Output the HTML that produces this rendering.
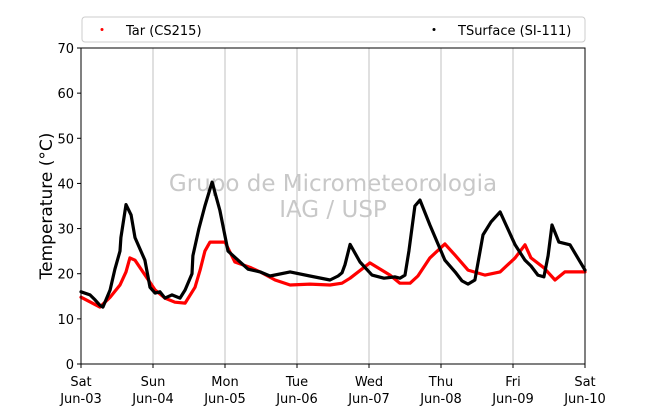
<!DOCTYPE html>
<html><head><meta charset="utf-8"><style>
body{margin:0;background:#fff;font-family:"Liberation Sans","DejaVu Sans",sans-serif;}
svg text{font-family:"DejaVu Sans","Liberation Sans",sans-serif;}
</style></head><body>
<svg id="chart" width="650" height="409" xmlns="http://www.w3.org/2000/svg">
<rect width="650" height="409" fill="#fff"/>
<g id="grid"></g>
<text x="333" y="191" text-anchor="middle" font-size="23" fill="#c8c8c8">Grupo de Micrometeorologia</text>
<text x="333" y="217" text-anchor="middle" font-size="23" fill="#c8c8c8">IAG / USP</text>
<g id="series"></g>
<rect x="81" y="48" width="504" height="316" fill="none" stroke="#000" stroke-width="1"/>
<g id="axes"></g>
<text transform="translate(52,206) rotate(-90)" text-anchor="middle" font-size="17">Temperature (°C)</text>
<g>
<rect x="82" y="17" width="503" height="25" rx="3" fill="#fff" stroke="#ccc"/>
<circle cx="102" cy="29.5" r="1.5" fill="red"/>
<text x="126" y="35" font-size="13">Tar (CS215)</text>
<circle cx="434" cy="29.5" r="1.5" fill="#000"/>
<text x="458" y="35" font-size="13">TSurface (SI-111)</text>
</g>
</svg>
<script>
const dayLabels=["Sat","Sun","Mon","Tue","Wed","Thu","Fri","Sat"];
const dateLabels=["Jun-03","Jun-04","Jun-05","Jun-06","Jun-07","Jun-08","Jun-09","Jun-10"];
const yTicks=[0,10,20,30,40,50,60,70];
const surfHours=[0,3,4.7,6.3,7.3,9.7,11.3,13,13.3,15,16.7,18,21.3,23,24.7,26.3,28,30.3,33,34.7,37,37.3,39.3,41.3,43.7,46.3,49,55.7,59.7,63,69.7,76.3,83,85.7,87,88,89.7,93,97,101,104.7,106.3,108,109.3,111.3,113,116.3,121.3,124.7,127,129,131.3,134,136.7,139.7,144.7,148,150,152.3,154.3,155.7,157,159.3,163,168];
const surfTemps=[16,15.3,14.2,13,12.6,16.4,21,25,28,35.3,33,28,23,17,15.7,16,14.6,15.3,14.6,16.4,20,24,30,35,40.3,34,25,21,20.4,19.5,20.4,19.5,18.6,19.5,20.2,22,26.5,22.6,19.7,19,19.3,19,19.7,25,35,36.3,30.8,23,20.4,18.4,17.7,18.6,28.6,31.5,33.7,26.4,23,21.7,19.7,19.3,24,30.8,27,26.4,20.8,17.5,14.2];
const tarHours=[0,6.3,9.7,13,15,16.3,18,24.7,28,31.3,34.7,38,39.7,41.3,43,48,51.3,56.7,59.7,64.7,69.7,76.3,83,87,89.7,96.3,103,106.3,109.7,112.3,116.3,121.3,124.7,129,134.7,139.7,144.7,148,150,154.3,158,161.3,168];
const tarTemps=[14.8,12.6,14.8,17.5,20.4,23.5,23,16.4,14.6,13.7,13.5,17,20.8,25,27,27,22.6,21.3,20.4,18.6,17.5,17.7,17.5,17.9,19,22.4,19.7,17.9,17.9,19.5,23.5,26.6,24.1,20.8,19.7,20.4,23.5,26.4,23.5,21.3,18.6,20.4,20.4,16.4,13.7];
</script>
<script>
const NS="http://www.w3.org/2000/svg";
const X0=81,X1=585,Y0=364,Y1=48;
function xs(h){return X0+(X1-X0)*h/168;}
function ys(t){return Y0-(Y0-Y1)*t/70;}
function mk(tag,attrs,parent){const e=document.createElementNS(NS,tag);for(const k in attrs)e.setAttribute(k,attrs[k]);parent.appendChild(e);return e;}
const grid=document.getElementById('grid'),axes=document.getElementById('axes'),series=document.getElementById('series');
for(let d=0;d<dayLabels.length;d++){
  const x=xs(d*24);
  if(d>0&&d<7){const g=mk('line',{x1:x,x2:x,y1:Y1,y2:Y0,stroke:'#c0c0c0','stroke-width':1},grid);
    
    }
  mk('line',{x1:x,x2:x,y1:Y0,y2:Y0+4,stroke:'#000'},axes);
  const t1=mk('text',{x:x,y:386,'text-anchor':'middle','font-size':13},axes);t1.textContent=dayLabels[d];
  
  
  const t2=mk('text',{x:x,y:403,'text-anchor':'middle','font-size':13},axes);t2.textContent=dateLabels[d];
  
  
}
yTicks.forEach(v=>{const y=ys(v);
  mk('line',{x1:X0-4,x2:X0,y1:y,y2:y,stroke:'#000'},axes);
  const t=mk('text',{x:X0-7,y:y+5,'text-anchor':'end','font-size':13},axes);t.textContent=v;
  
  
});
function draw(hours,temps,color,name){
  const pts=hours.map((h,i)=>xs(h).toFixed(1)+','+ys(temps[i]).toFixed(1)).join(' ');
  const p=mk('polyline',{points:pts,fill:'none',stroke:color,'stroke-width':3.2,'stroke-linejoin':'round','stroke-linecap':'round'},series);
  
  
}
draw(tarHours,tarTemps,'#ff0000','series-tar');
draw(surfHours,surfTemps,'#000000','series-tsurface');
</script>
</body></html>
